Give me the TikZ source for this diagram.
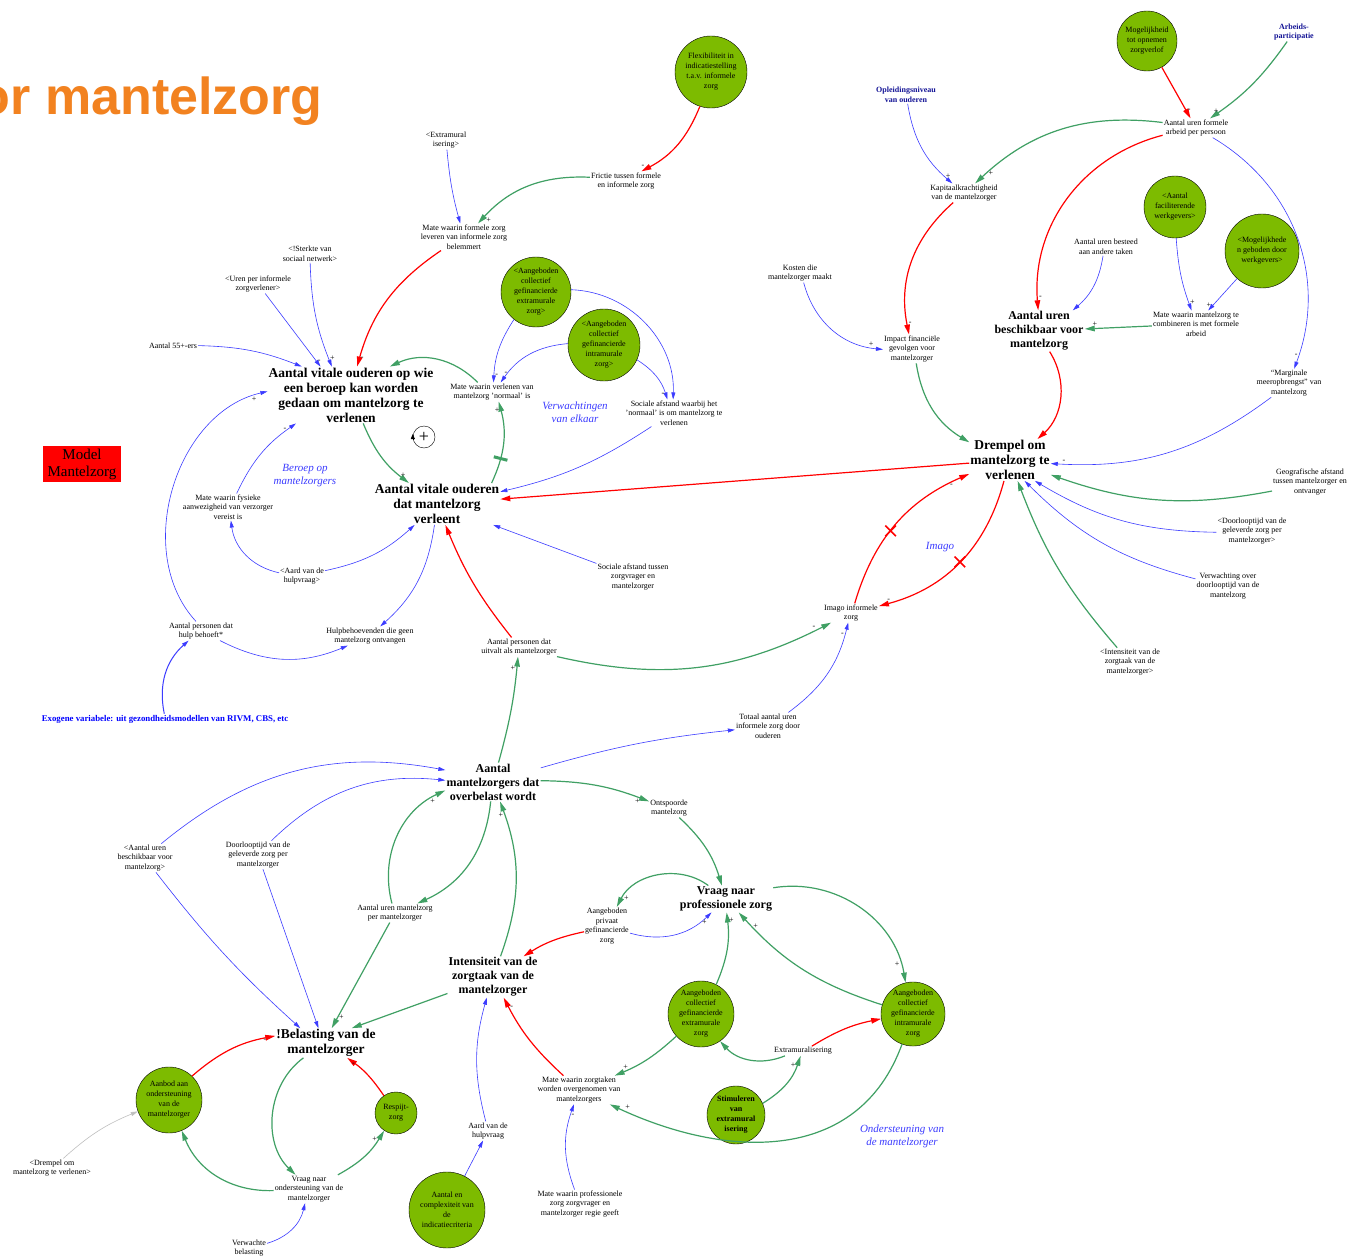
\documentclass[tikz,border=0pt]{standalone}
\usepackage{fontspec}
\setmainfont{Liberation Serif}
\newfontfamily\titelfont{Liberation Sans}
\usetikzlibrary{arrows.meta,shapes.misc}
\definecolor{cdgreen}{RGB}{64,160,100}
\definecolor{cdblue}{RGB}{60,60,255}
\definecolor{cdlever}{RGB}{125,187,0}
\definecolor{cdorange}{RGB}{242,130,32}
\definecolor{cdnavy}{RGB}{20,20,150}

\begin{document}
\begin{tikzpicture}[x=1pt, y=1pt,
    auxvar/.style={align=center, inner sep=1pt, font=\fontsize{8}{9.5}\selectfont},
    keyvar/.style={align=center, inner sep=1pt, font=\bfseries\fontsize{13.5}{15}\selectfont},
    keyvarsm/.style={align=center, inner sep=1pt, font=\bfseries\fontsize{12}{14}\selectfont},
    extvar/.style={align=center, inner sep=1pt, text=cdnavy, font=\bfseries\fontsize{8}{9.5}\selectfont},
    lever/.style={circle, draw=black, fill=cdlever, align=center, inner sep=0pt,
      font=\fontsize{8}{10}\selectfont},
    loopname/.style={align=center, text=cdblue, font=\itshape\fontsize{11}{13}\selectfont},
    titel/.style={font=\titelfont\bfseries\fontsize{52}{52}\selectfont, text=cdorange, inner sep=0pt},
    modelbox/.style={fill=red, align=center, minimum width=78pt, minimum height=36pt,
      inner sep=0pt, font=\fontsize{15}{17}\selectfont},
    poslink/.style={draw=cdgreen, line width=1.2pt, -{Triangle[length=10pt,width=5.5pt]}},
    neglink/.style={draw=red, line width=1.2pt, -{Triangle[length=10pt,width=5.5pt]}},
    infl/.style={draw=cdblue, line width=0.6pt, -{Triangle[length=7pt,width=4pt]}},
    sgn/.style={font=\fontsize{8}{8}\selectfont, inner sep=1pt, text=black},
    delaybar/.style={sloped, fill=cdgreen, minimum width=3pt, minimum height=14pt, inner sep=0pt},
    xmark/.style={cross out, draw=red, line width=1.6pt, minimum size=9pt, inner sep=0pt},
    loopsym/.style={circle, draw, thin, minimum size=22pt, inner sep=0pt,
      font=\fontsize{18}{18}\selectfont}]

  \useasboundingbox (0,0) rectangle (1366,-1260);
  \clip (0,0) rectangle (1366,-1260);
  \fill[white] (0,0) rectangle (1366,-1260);

  % title and legend
  \node[titel, anchor=base east] (titel) at (323,-115) {or mantelzorg};
  \node[modelbox] (model) at (82,-464) {Model\\Mantelzorg};
  \node[auxvar, text=blue, font=\bfseries\fontsize{8.8}{10}\selectfont] (exogeen) at (165,-719)
    {Exogene variabele: uit gezondheidsmodellen van RIVM, CBS, etc};

  % top left
  \node[auxvar] (extram1) at (446,-140) {<Extramural\\isering>};
  \node[auxvar] (mateFormeel) at (464,-237) {Mate waarin formele zorg\\leveren van informele zorg\\belemmert};
  \node[auxvar] (sterkte) at (310,-254) {<!Sterkte van\\sociaal netwerk>};
  \node[auxvar] (urenInf) at (258,-284) {<Uren per informele\\zorgverlener>};
  \node[auxvar] (aantal55) at (173,-346) {Aantal 55+-ers};
  \node[keyvar] (vitaal) at (351,-395) {Aantal vitale ouderen op wie\\een beroep kan worden\\gedaan om mantelzorg te\\verlenen};
  \node[lever, minimum size=72pt] (flex) at (711,-72) {Flexibiliteit in\\indicatiestelling\\t.a.v. informele\\zorg};
  \node[auxvar] (frictie) at (626,-181) {Frictie tussen formele\\en informele zorg};
  \node[lever, minimum size=70pt] (acgExtA) at (536,-292) {<Aangeboden\\collectief\\gefinancierde\\extramurale\\zorg>};
  \node[lever, minimum size=72pt] (acgIntA) at (604,-345) {<Aangeboden\\collectief\\gefinancierde\\intramurale\\zorg>};
  \node[auxvar] (normaal) at (492,-392) {Mate waarin verlenen van\\mantelzorg 'normaal' is};
  \node[auxvar] (socAfstA) at (674,-413) {Sociale afstand waarbij het\\'normaal' is om mantelzorg te\\verlenen};
  \node[loopname] (lpVerw) at (575,-412) {Verwachtingen\\van elkaar};
  \node[loopsym] (lpsym) at (424,-437) {+};
  \node[loopname] (lpBeroep) at (305,-476) {Beroep op\\mantelzorgers};
  \node[keyvar] (verleent) at (437,-504) {Aantal vitale ouderen\\dat mantelzorg\\verleent};
  \node[auxvar] (fysiek) at (228,-507) {Mate waarin fysieke\\aanwezigheid van verzorger\\vereist is};
  \node[auxvar] (aardA) at (302,-576) {<Aard van de\\hulpvraag>};
  \node[auxvar] (socAfstB) at (633,-577) {Sociale afstand tussen\\zorgvrager en\\mantelzorger};
  \node[auxvar] (personen) at (201,-631) {Aantal personen dat\\hulp behoeft*};
  \node[auxvar] (hulpGeen) at (370,-636) {Hulpbehoevenden die geen\\mantelzorg ontvangen};
  \node[auxvar] (uitval) at (519,-647) {Aantal personen dat\\uitvalt als mantelzorger};
  \node[auxvar] (imago) at (851,-613) {Imago informele\\zorg};
  \node[loopname] (lpImago) at (940,-547) {Imago};
  \node[auxvar] (totaal) at (768,-726) {Totaal aantal uren\\informele zorg door\\ouderen};

  % top right
  \node[lever, minimum size=60pt] (verlof) at (1147,-41) {Mogelijkheid\\tot opnemen\\zorgverlof};
  \node[extvar] (arbeid) at (1294,-32) {Arbeids-\\participatie};
  \node[extvar] (opleiding) at (906,-95) {Opleidingsniveau\\van ouderen};
  \node[auxvar] (urenFormeel) at (1196,-128) {Aantal uren formele\\arbeid per persoon};
  \node[auxvar] (kapitaal) at (964,-193) {Kapitaalkrachtigheid\\van de mantelzorger};
  \node[lever, minimum size=62pt] (facil) at (1175,-207) {<Aantal\\faciliterende\\werkgevers>};
  \node[lever, minimum size=74pt] (mogWerk) at (1262,-251) {<Mogelijkhede\\n geboden door\\werkgevers>};
  \node[auxvar] (besteed) at (1106,-247) {Aantal uren besteed\\aan andere taken};
  \node[auxvar] (kosten) at (800,-273) {Kosten die\\mantelzorger maakt};
  \node[auxvar] (combi) at (1196,-324) {Mate waarin mantelzorg te\\combineren is met formele\\arbeid};
  \node[keyvarsm] (beschik) at (1039,-331) {Aantal uren\\beschikbaar voor\\mantelzorg};
  \node[auxvar] (impact) at (912,-349) {Impact financi\"ele\\gevolgen voor\\mantelzorger};
  \node[auxvar] (marginaal) at (1289,-383) {``Marginale\\meeropbrengst'' van\\mantelzorg};
  \node[keyvar] (drempel) at (1010,-460) {Drempel om\\mantelzorg te\\verlenen};
  \node[auxvar] (geograf) at (1310,-482) {Geografische afstand\\tussen mantelzorger en\\ontvanger};
  \node[auxvar] (doorloopA) at (1252,-531) {<Doorlooptijd van de\\geleverde zorg per\\mantelzorger>};
  \node[auxvar] (verwDoor) at (1228,-586) {Verwachting over\\doorlooptijd van de\\mantelzorg};
  \node[auxvar] (intensB) at (1130,-662) {<Intensiteit van de\\zorgtaak van de\\mantelzorger>};

  % bottom
  \node[keyvarsm] (overbelast) at (493,-782) {Aantal\\mantelzorgers dat\\overbelast wordt};
  \node[auxvar] (ontspoord) at (669,-808) {Ontspoorde\\mantelzorg};
  \node[auxvar] (urenB) at (145,-858) {<Aantal uren\\beschikbaar voor\\mantelzorg>};
  \node[auxvar] (doorloopB) at (258,-855) {Doorlooptijd van de\\geleverde zorg per\\mantelzorger};
  \node[auxvar] (urenPer) at (395,-913) {Aantal uren mantelzorg\\per mantelzorger};
  \node[keyvarsm] (vraagProf) at (726,-899) {Vraag naar\\professionele zorg};
  \node[auxvar] (privaat) at (607,-926) {Aangeboden\\privaat\\gefinancierde\\zorg};
  \node[keyvarsm] (intensiteit) at (493,-977) {Intensiteit van de\\zorgtaak van de\\mantelzorger};
  \node[lever, minimum size=66pt] (acgExtB) at (701,-1014) {Aangeboden\\collectief\\gefinancierde\\extramurale\\zorg};
  \node[lever, minimum size=62pt] (acgIntB) at (913,-1014) {Aangeboden\\collectief\\gefinancierde\\intramurale\\zorg};
  \node[keyvar] (belasting) at (326,-1043) {!Belasting van de\\mantelzorger};
  \node[auxvar] (extramural) at (803,-1051) {Extramuralisering};
  \node[lever, minimum size=66pt] (aanbod) at (169,-1100) {Aanbod aan\\ondersteuning\\van de\\mantelzorger};
  \node[lever, minimum size=42pt] (respijt) at (396,-1113) {Respijt-\\zorg};
  \node[auxvar] (overgenomen) at (579,-1090) {Mate waarin zorgtaken\\worden overgenomen van\\mantelzorgers};
  \node[lever, minimum size=58pt, font=\bfseries\fontsize{8}{10}\selectfont] (stimul) at (736,-1115) {Stimuleren\\van\\extramural\\isering};
  \node[loopname] (lpOnderst) at (902,-1136) {Ondersteuning van\\de mantelzorger};
  \node[auxvar] (aardB) at (488,-1131) {Aard van de\\hulpvraag};
  \node[auxvar] (drempelB) at (52,-1168) {<Drempel om\\mantelzorg te verlenen>};
  \node[auxvar] (vraagOnd) at (309,-1189) {Vraag naar\\ondersteuning van de\\mantelzorger};
  \node[lever, minimum size=76pt] (complex) at (447,-1210) {Aantal en\\complexiteit van\\de\\indicatiecriteria};
  \node[auxvar] (regie) at (580,-1204) {Mate waarin professionele\\zorg zorgvrager en\\mantelzorger regie geeft};
  \node[auxvar] (verwBel) at (249,-1248) {Verwachte\\belasting};

  % links top left
  \draw[neglink] (flex) to[bend left=20] node[sgn,pos=.95,above left]{-} (frictie);
  \draw[poslink] (frictie) to[bend right=25] node[sgn,pos=.93,below right]{+} (mateFormeel);
  \draw[infl] (extram1) to[bend right=5] (mateFormeel);
  \draw[neglink] (mateFormeel) to[bend right=20] node[sgn,pos=.95,right]{-} (vitaal.78);
  \draw[infl] (sterkte) to[bend right=10] node[sgn,pos=.93,right]{+} (vitaal.124);
  \draw[infl] (urenInf) -- node[sgn,pos=.93,right]{-} (vitaal.137);
  \draw[infl] (aantal55) to[bend left=10] (vitaal.150);
  \draw[poslink] (normaal) to[bend right=35] (vitaal);
  \draw[infl] (acgExtA) to[bend right=15] node[sgn,pos=.9,right]{-} (normaal);
  \draw[infl] (acgIntA) to[bend right=25] node[sgn,pos=.9,above]{-} (normaal);
  \draw[infl] (acgExtA) to[bend left=45] (socAfstA);
  \draw[infl] (acgIntA) to[bend left=20] node[sgn,pos=.9,left]{-} (socAfstA);
  \draw[infl] (socAfstA) to[bend left=10] (verleent);
  \draw[poslink] (verleent.21) to[bend right=20] node[delaybar,pos=.3]{}
    node[sgn,pos=.9,left]{+} (normaal.-55);
  \draw[poslink] (vitaal) to[bend right=15] node[sgn,pos=.85,right]{+} (verleent);
  \draw[neglink] (drempel) -- (verleent);
  \draw[infl] (socAfstB) -- (verleent);
  \draw[neglink] (uitval) to[bend left=8] (verleent);
  \draw[infl] (verleent) to[bend left=20] (hulpGeen);
  \draw[infl] (aardA) to[bend right=15] (verleent);
  \draw[infl] (aardA) to[bend left=35] (fysiek);
  \draw[infl] (fysiek) to[bend left=15] node[sgn,pos=.9,left]{-} (vitaal);
  \draw[infl] (personen) to[bend left=60] node[sgn,pos=.95,below]{+} (vitaal);
  \draw[infl] (personen) to[bend right=25] (hulpGeen);
  \draw[infl, line width=1pt] (exogeen) to[bend left=30] (personen);
  \draw[poslink] (uitval) to[bend right=20] node[sgn,pos=.95,above left]{-} (imago);
  \draw[infl] (totaal) to[bend right=20] node[sgn,pos=.9,left]{-} (imago);
  \draw[neglink] (imago) to[bend left=25] node[xmark,pos=.45]{} node[sgn,pos=.9,below]{-} (drempel);
  \draw[neglink] (drempel) to[bend left=30] node[xmark,pos=.5]{} node[sgn,pos=.95,above]{-} (imago);
  \draw[poslink] (overbelast) to[bend right=5] node[sgn,pos=.9,left]{+} (uitval);
  \draw[infl] (overbelast) to[bend left=5] (totaal);
  \draw[-{Triangle[length=5pt,width=4pt]}, thin] (lpsym.west) ++(0,-3) -- ++(0,6);

  % links top right
  \draw[neglink] (verlof) -- node[sgn,pos=.85,right]{-} (urenFormeel);
  \draw[poslink] (arbeid) to[bend left=10] node[sgn,pos=.9,left]{+} (urenFormeel);
  \draw[poslink] (urenFormeel) to[bend right=25] node[sgn,pos=.93,right]{+} (kapitaal);
  \draw[infl] (opleiding) to[bend right=20] node[sgn,pos=.9,right]{+} (kapitaal);
  \draw[neglink] (urenFormeel) to[bend right=40] node[sgn,pos=.95,right]{-} (beschik);
  \draw[infl] (urenFormeel) to[bend left=40] node[sgn,pos=.95,left]{-} (marginaal);
  \draw[neglink] (kapitaal) to[bend right=30] node[sgn,pos=.93,right]{-} (impact);
  \draw[infl] (kosten) to[bend right=35] node[sgn,pos=.9,above]{+} (impact);
  \draw[infl] (besteed) to[bend left=20] (beschik);
  \draw[infl] (facil) to[bend right=8] node[sgn,pos=.9,right]{+} (combi);
  \draw[infl] (mogWerk) -- node[sgn,pos=.85,left]{+} (combi);
  \draw[poslink] (combi) -- node[sgn,pos=.85,above]{+} (beschik);
  \draw[neglink] (beschik) to[bend left=40] (drempel);
  \draw[poslink] (impact) to[bend right=25] (drempel);
  \draw[infl] (marginaal) to[bend left=20] node[sgn,pos=.95,above]{-} (drempel.-5);
  \draw[poslink] (geograf) to[bend left=15] (drempel.-20);
  \foreach \src/\ang in {doorloopA/-40, verwDoor/-55}
    {\draw[infl] (\src) to[bend left=15] (drempel.\ang);}
  \draw[poslink] (intensB) to[bend left=10] (drempel.-70);

  % links bottom
  \draw[infl] (urenB) to[bend left=25] (overbelast.166);
  \draw[infl] (doorloopB) to[bend left=25] (overbelast.178);
  \draw[poslink] (urenPer) to[bend left=40] node[sgn,pos=.9,below]{+} (overbelast.190);
  \draw[poslink] (overbelast) to[bend left=30] (urenPer);
  \draw[poslink] (intensiteit) to[bend right=20] node[sgn,pos=.92,left]{+} (overbelast);
  \draw[poslink] (overbelast) to[bend left=10] node[sgn,pos=.9,below]{+} (ontspoord);
  \draw[poslink] (ontspoord) to[bend left=15] (vraagProf);
  \draw[poslink] (vraagProf) to[bend right=50] node[sgn,pos=.9,right]{+} (privaat);
  \draw[infl] (privaat) to[bend right=30] node[sgn,pos=.9,below]{+} (vraagProf);
  \draw[neglink] (privaat) to[bend right=10] (intensiteit);
  \draw[poslink] (acgExtB) to[bend right=15] node[sgn,pos=.9,right]{+} (vraagProf);
  \draw[poslink] (acgIntB) to[bend left=15] node[sgn,pos=.9,right]{+} (vraagProf);
  \draw[poslink] (vraagProf) to[bend left=45] node[sgn,pos=.9,left]{+} (acgIntB);
  \draw[poslink] (acgExtB) to[bend left=10] node[sgn,pos=.85,above]{+} (overgenomen);
  \draw[poslink] (extramural) to[bend left=35] (acgExtB);
  \draw[neglink] (extramural) to[bend left=10] (acgIntB);
  \draw[poslink] (stimul) to[bend right=20] node[sgn,pos=.85,left]{+} (extramural);
  \draw[poslink] (acgIntB.-110) to[out=-110, in=-25, looseness=1.1]
    node[sgn,pos=.96,above right]{+} (overgenomen.-25);
  \draw[neglink] (overgenomen) to[bend left=10] node[sgn,pos=.9,right]{-} (intensiteit);
  \draw[infl] (regie) to[bend left=20] node[sgn,pos=.88,right]{-} (overgenomen);
  \draw[infl] (aardB) to[bend left=15] (intensiteit);
  \draw[infl] (complex) -- (aardB);
  \draw[poslink] (intensiteit) -- (belasting.30);
  \draw[poslink] (urenPer) -- node[sgn,pos=.9,right]{+} (belasting.69);
  \draw[infl] (urenB) to[bend right=5] (belasting.150);
  \draw[infl] (doorloopB) -- (belasting.117);
  \draw[neglink] (aanbod) to[bend left=15] node[sgn,pos=.9,below]{-} (belasting.172);
  \draw[neglink] (respijt) to[bend right=10] node[sgn,pos=.8,left]{-} (belasting);
  \draw[poslink] (belasting) to[bend right=50] (vraagOnd);
  \draw[poslink] (vraagOnd) to[bend left=35] (aanbod);
  \draw[poslink] (vraagOnd) to[bend right=15] node[sgn,pos=.85,left]{+} (respijt);
  \draw[infl] (verwBel) to[bend right=30] (vraagOnd);
  \draw[infl, draw=black!25] (drempelB) to[bend left=10] (aanbod);
\end{tikzpicture}
\end{document}
